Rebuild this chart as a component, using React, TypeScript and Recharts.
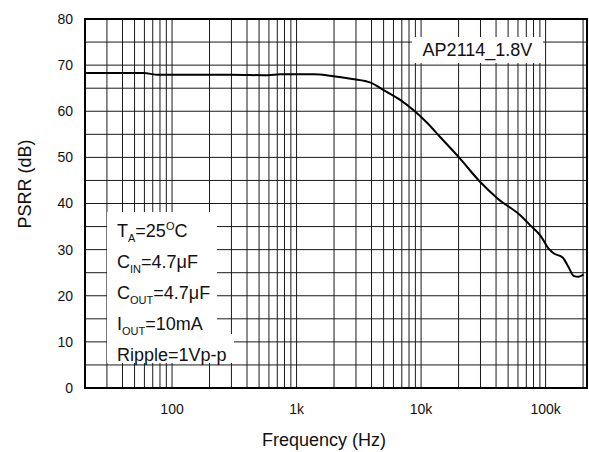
import { CartesianGrid, Line, LineChart, ReferenceArea, XAxis, YAxis } from 'recharts'

// PSRR vs frequency
const freqHz = [
  20, 40, 59, 77, 150, 300, 585, 743, 895, 1370, 1980, 2800, 3930, 5000, 6840,
  8710, 11270, 14350, 20000, 30000, 41100, 62900, 75800, 91200, 105700, 115900,
  137000, 153000, 168000, 184000, 202000,
]
const psrrDb = [
  68.3, 68.3, 68.3, 67.9, 67.9, 67.9, 67.8, 68.0, 68.0, 68.0, 67.6, 67.0, 66.2,
  64.6, 62.4, 60.2, 57.4, 54.3, 50.1, 44.6, 41.1, 37.4, 35.2, 33.0, 30.2, 29.2,
  28.3, 26.2, 24.3, 24.1, 24.6,
]

const xGridTicks = [
  20, 30, 40, 50, 60, 70, 80, 90, 100, 200, 300, 400, 500, 600, 700, 800, 900,
  1000, 2000, 3000, 4000, 5000, 6000, 7000, 8000, 9000, 10000, 20000, 30000,
  40000, 50000, 60000, 70000, 80000, 90000, 100000, 200000,
]
const xTickLabels: [number, string][] = [
  [100, '100'],
  [1000, '1k'],
  [10000, '10k'],
  [100000, '100k'],
]
const yGridTicks = [0, 5, 10, 15, 20, 25, 30, 35, 40, 45, 50, 55, 60, 65, 70, 75, 80]
const yTickLabels = [0, 10, 20, 30, 40, 50, 60, 70, 80]

const xDomain: [number, number] = [20, 215000]
const yDomain: [number, number] = [0, 80]

const data = freqHz.map((f, i) => ({ f, psrr: psrrDb[i] }))

const FONT = '"Liberation Sans", Arial, Helvetica, sans-serif'

const sub = { fontSize: 11, position: 'relative' as const, top: 5 }
const sup = { fontSize: 11, position: 'relative' as const, top: -7 }

export default function App() {
  return (
    <div style={{ position: 'absolute', left: 0, top: 0, width: 589, height: 452, background: '#fff', fontFamily: FONT }}>
      <LineChart
        width={589}
        height={452}
        data={data}
        margin={{ top: 19, right: 2, left: 0, bottom: 0 }}
      >
        <CartesianGrid stroke="#1a1a1a" strokeWidth={1} />
        <XAxis
          dataKey="f"
          type="number"
          scale="log"
          domain={xDomain}
          allowDataOverflow
          ticks={xGridTicks}
          interval={0}
          height={64}
          axisLine={false}
          tickLine={false}
          tickMargin={10}
          tick={{ fill: '#111', fontSize: 14, fontFamily: FONT }}
          tickFormatter={(v: number) => {
            const hit = xTickLabels.find((t) => t[0] === v)
            return hit ? hit[1] : ''
          }}
          label={({ viewBox }: any) => (
            <text
              x={viewBox.x + viewBox.width / 2 - 12}
              y={viewBox.y + 52}
              textAnchor="middle"
              dominantBaseline="central"
              fontSize={18}
              fontFamily={FONT}
              fill="#111"
            >
              Frequency (Hz)
            </text>
          )}
        />
        <YAxis
          type="number"
          domain={yDomain}
          ticks={yGridTicks}
          interval={0}
          width={85}
          axisLine={false}
          tickLine={false}
          tickMargin={6}
          tick={{ fill: '#111', fontSize: 14, fontFamily: FONT }}
          tickFormatter={(v: number) => (yTickLabels.includes(v) ? String(v) : '')}
          label={({ viewBox }: any) => (
            <text
              x={viewBox.x + 25}
              y={184}
              textAnchor="middle"
              dominantBaseline="central"
              fontSize={18}
              fontFamily={FONT}
              fill="#111"
              transform={`rotate(-90, ${viewBox.x + 25}, 184)`}
            >
              PSRR (dB)
            </text>
          )}
        />
        <ReferenceArea
          x1={xDomain[0]}
          x2={xDomain[1]}
          y1={yDomain[0]}
          y2={yDomain[1]}
          fill="none"
          fillOpacity={0}
          stroke="#000"
          strokeWidth={2}
        />
        <Line
          dataKey="psrr"
          type="monotone"
          stroke="#000"
          strokeWidth={2}
          dot={false}
          isAnimationActive={false}
        />
      </LineChart>

      {/* device label */}
      <div
        style={{
          position: 'absolute',
          left: 412,
          top: 37,
          width: 131,
          height: 26,
          background: '#fff',
          fontSize: 18,
          lineHeight: '26px',
          textAlign: 'center',
          color: '#111',
        }}
      >
        AP2114_1.8V
      </div>

      {/* test conditions */}
      <div style={{ position: 'absolute', left: 107, top: 212, width: 110, height: 151, background: '#fff' }} />
      <div style={{ position: 'absolute', left: 107, top: 334, width: 127, height: 29, background: '#fff' }} />
      <div
        style={{
          position: 'absolute',
          left: 117,
          top: 217,
          fontSize: 18,
          lineHeight: '29px',
          color: '#111',
          whiteSpace: 'nowrap',
        }}
      >
        <div>T<span style={sub}>A</span>=25<span style={sup}>O</span>C</div>
        <div>C<span style={sub}>IN</span>=4.7μF</div>
        <div>C<span style={sub}>OUT</span>=4.7μF</div>
        <div>I<span style={sub}>OUT</span>=10mA</div>
        <div>Ripple=1Vp-p</div>
      </div>
    </div>
  )
}
